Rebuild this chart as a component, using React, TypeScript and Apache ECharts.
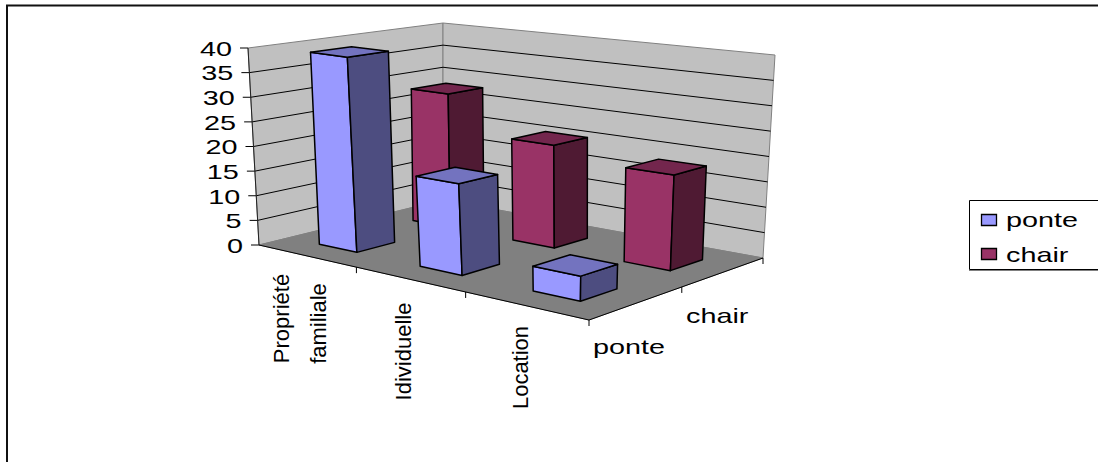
import React, { useEffect, useRef } from "react";
import * as echarts from "echarts";

const categories = ["Propriété familiale", "Idividuelle", "Location"];
const seriesNames = ["ponte", "chair"];
const ponteValues = [39, 17.5, 4.6];
const chairValues = [28.2, 20.7, 18.4];
const tickValues = [0, 5, 10, 15, 20, 25, 30, 35, 40];

const VMAX = 40;
const NC = categories.length;
const NS = seriesNames.length;

type Pt = [number, number];
// corners order: (c=0,s=0) (c=max,s=0) (c=max,s=max) (c=0,s=max)
const floorQuad: Pt[] = [[259, 245], [589, 320], [763, 258], [443, 200]];
const topQuad: Pt[] = [[248, 48], [593.5, 95], [775, 55], [443, 23]];

function homography(q: Pt[]) {
  const [[x0, y0], [x1, y1], [x2, y2], [x3, y3]] = q;
  const dx1 = x1 - x2, dx2 = x3 - x2, sx = x0 - x1 + x2 - x3;
  const dy1 = y1 - y2, dy2 = y3 - y2, sy = y0 - y1 + y2 - y3;
  const den = dx1 * dy2 - dx2 * dy1;
  const g = (sx * dy2 - dx2 * sy) / den;
  const h = (dx1 * sy - sx * dy1) / den;
  const a = x1 - x0 + g * x1, b = x3 - x0 + h * x3;
  const d = y1 - y0 + g * y1, e = y3 - y0 + h * y3;
  return (u: number, v: number): Pt => {
    const w = g * u + h * v + 1;
    return [(a * u + b * v + x0) / w, (d * u + e * v + y0) / w];
  };
}
const floorH = homography(floorQuad);
const topH = homography(topQuad);

function project(c: number, s: number, v: number): Pt {
  const f = floorH(c / NC, s / NS);
  const t = topH(c / NC, s / NS);
  const k = v / VMAX;
  return [f[0] + (t[0] - f[0]) * k, f[1] + (t[1] - f[1]) * k];
}

const FONT = "Liberation Sans";
const poly = (points: Pt[], fill: string, stroke: string, lineWidth = 1) => ({
  type: "polygon",
  shape: { points },
  style: { fill, stroke, lineWidth, lineJoin: "round" },
});
const seg = (a: Pt, b: Pt, stroke: string, lineWidth = 1) => ({
  type: "line",
  shape: { x1: a[0], y1: a[1], x2: b[0], y2: b[1] },
  style: { stroke, lineWidth },
});

const C0 = 0.32, C1 = 0.705, S0 = 0.3, S1 = 0.69;

function barRenderer(front: string, side: string, top: string, s: number) {
  return (_p: any, api: any) => {
    const c = api.value(0) as number;
    const v = api.value(1) as number;
    const cl = c + C0, cr = c + C1, sf = s + S0, sb = s + S1;
    return {
      type: "group",
      children: [
        poly([project(cl, sf, 0), project(cr, sf, 0), project(cr, sf, v), project(cl, sf, v)], front, "#000", 1.5),
        poly([project(cr, sf, 0), project(cr, sb, 0), project(cr, sb, v), project(cr, sf, v)], side, "#000", 1.5),
        poly([project(cl, sf, v), project(cr, sf, v), project(cr, sb, v), project(cl, sb, v)], top, "#000", 1.5),
      ],
    };
  };
}

function sceneRenderer() {
  const children: any[] = [];
  children.push(poly([project(0, 0, 0), project(0, NS, 0), project(0, NS, VMAX), project(0, 0, VMAX)], "#C0C0C0", "#808080"));
  children.push(poly([project(0, NS, 0), project(NC, NS, 0), project(NC, NS, VMAX), project(0, NS, VMAX)], "#C0C0C0", "#808080"));
  children.push(poly([project(0, 0, 0), project(NC, 0, 0), project(NC, NS, 0), project(0, NS, 0)], "#808080", "#808080"));
  for (const t of tickValues) {
    if (t > 0 && t < VMAX) {
      children.push(seg(project(0, 0, t), project(0, NS, t), "#000"));
      children.push(seg(project(0, NS, t), project(NC, NS, t), "#000"));
    }
    const p = project(0, 0, t);
    children.push(seg(p, [p[0] - 8, p[1]], "#000"));
  }
  children.push(seg(project(0, 0, 0), project(0, 0, VMAX), "#222"));
  children.push(seg(project(0, 0, 0), project(NC, 0, 0), "#000"));
  children.push(seg(project(NC, 0, 0), project(NC, NS, 0), "#000"));
  for (let c = 1; c <= NC; c++) {
    const p = project(c, 0, 0);
    children.push(seg(p, [p[0], p[1] + 6], "#000"));
  }
  for (let s = 1; s <= NS; s++) {
    const p = project(NC, s, 0);
    children.push(seg(p, [p[0], p[1] + 6], "#000"));
  }
  return { type: "group", children };
}

const hText = (text: string, x: number, y: number, align: string) => ({
  type: "text",
  x,
  y,
  scaleX: 1.44,
  style: { text, fill: "#000", fontFamily: FONT, fontSize: 20, align, verticalAlign: "middle" },
});
const vText = (text: string, x: number, y: number) => ({
  type: "text",
  x,
  y,
  rotation: Math.PI / 2,
  style: { text, fill: "#000", fontFamily: FONT, fontSize: 22, align: "center", verticalAlign: "middle" },
});

function buildGraphic() {
  const els: any[] = [];
  // chart frame (cropped at the right and bottom of the picture)
  els.push({ type: "rect", shape: { x: 7, y: 5.5, width: 1300, height: 800 }, style: { fill: "none", stroke: "#111", lineWidth: 2 } });
  // axis labels
  for (const t of tickValues) {
    const p = project(0, 0, t);
    els.push(hText(String(t), p[0] - 16, p[1] + 1, "right"));
  }
  const [a, b] = categories[0].split(" ");
  els.push(vText(a, 281, 318.5));
  els.push(vText(b, 318, 323.5));
  els.push(vText(categories[1], 403, 351.5));
  els.push(vText(categories[2], 520, 367.5));
  els.push(hText(seriesNames[0], 593, 347, "left"));
  els.push(hText(seriesNames[1], 686, 316, "left"));
  // legend
  els.push({ type: "line", shape: { x1: 969, y1: 270.5, x2: 1098, y2: 270.5 }, style: { stroke: "#808080", lineWidth: 1 } });
  els.push({ type: "rect", shape: { x: 969.5, y: 200.5, width: 200, height: 69 }, style: { fill: "#fff", stroke: "#000", lineWidth: 1 } });
  els.push({ type: "rect", shape: { x: 981.5, y: 214.5, width: 15, height: 11 }, style: { fill: "#9999FF", stroke: "#000", lineWidth: 1.3 } });
  els.push({ type: "rect", shape: { x: 981.5, y: 248.5, width: 15, height: 11 }, style: { fill: "#993366", stroke: "#000", lineWidth: 1.3 } });
  els.push(hText(seriesNames[0], 1006, 220, "left"));
  els.push(hText(seriesNames[1], 1006, 255, "left"));
  return els.map((e) => ({ ...e, z: 10 }));
}

export default function App() {
  const ref = useRef<HTMLDivElement>(null);
  useEffect(() => {
    const chart = echarts.init(ref.current!, null, { renderer: "svg" });
    chart.setOption({
      animation: false,
      backgroundColor: "#fff",
      graphic: { elements: buildGraphic() },
      series: [
        { type: "custom", name: "walls", coordinateSystem: "none", silent: true, data: [0], renderItem: sceneRenderer, z: 1 },
        {
          type: "custom", name: seriesNames[1], coordinateSystem: "none", silent: true, z: 2,
          data: chairValues.map((v, i) => [i, v]),
          renderItem: barRenderer("#993366", "#4F1A33", "#73264D", 1),
        },
        {
          type: "custom", name: seriesNames[0], coordinateSystem: "none", silent: true, z: 3,
          data: ponteValues.map((v, i) => [i, v]),
          renderItem: barRenderer("#9999FF", "#4D4D80", "#7373BF", 0),
        },
      ],
    });
    return () => chart.dispose();
  }, []);
  return <div ref={ref} style={{ position: "absolute", left: 0, top: 0, width: 1098, height: 462 }} />;
}
